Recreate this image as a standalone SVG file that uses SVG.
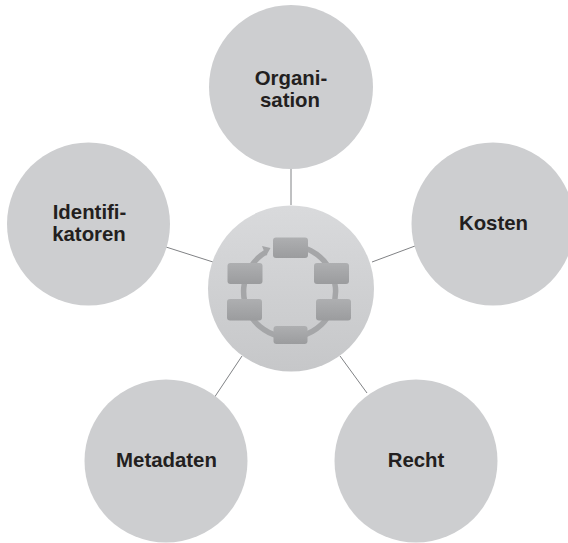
<svg xmlns="http://www.w3.org/2000/svg" width="568" height="543" viewBox="0 0 568 543">
<style>
.n{fill:#cdced0}
.l{font:bold 20.4px "Liberation Sans",Arial,sans-serif;fill:#231f20;text-anchor:middle}
.c{stroke:#808285;stroke-width:1;fill:none}
.b{fill:url(#bx);filter:url(#sb)}
</style>
<defs>
<linearGradient id="cg" x1="0" y1="0" x2="0" y2="1"><stop offset="0" stop-color="#d9dadc"/><stop offset="1" stop-color="#c6c7c9"/></linearGradient>
<linearGradient id="bx" x1="0" y1="0" x2="0" y2="1"><stop offset="0" stop-color="#aeafb1"/><stop offset="1" stop-color="#9b9c9e"/></linearGradient>
<filter id="sb" x="-10%" y="-10%" width="120%" height="120%"><feGaussianBlur stdDeviation="0.6"/></filter>
<filter id="s" x="-5%" y="-5%" width="110%" height="110%"><feGaussianBlur stdDeviation="0.7"/></filter>
</defs>
<rect width="568" height="543" fill="#fff"/>
<g id="connectors">
<line class="c" x1="291" y1="169" x2="291" y2="205"/>
<line class="c" x1="166" y1="247" x2="213" y2="262"/>
<line class="c" x1="415" y1="246" x2="372" y2="262"/>
<line class="c" x1="214" y1="398" x2="242" y2="356"/>
<line class="c" x1="367" y1="393" x2="340" y2="356"/>
</g>
<g id="node-organisation"><circle class="n" cx="291" cy="87" r="82"/><text class="l" x="291" y="85">Organi-</text><text class="l" x="290" y="107">sation</text></g>
<g id="node-identifikatoren"><circle class="n" cx="88.5" cy="224" r="81.5"/><text class="l" x="89.500" y="219">Identifi-</text><text class="l" x="89" y="241">katoren</text></g>
<g id="node-kosten"><circle class="n" cx="493" cy="224" r="81.5"/><text class="l" x="493.500" y="230">Kosten</text></g>
<g id="node-metadaten"><circle class="n" cx="166" cy="461" r="81.5"/><text class="l" x="166.500" y="467">Metadaten</text></g>
<g id="node-recht"><circle class="n" cx="416" cy="461" r="81.5"/><text class="l" x="416" y="467">Recht</text></g>
<g id="node-center">
<circle cx="291" cy="288.500" r="83" fill="url(#cg)" filter="url(#s)"/>
<path d="M266 252 A46 46 0 1 0 291 245.500" fill="none" stroke="#a5a6a8" stroke-width="5.500"/>
<path d="M270.500 248 L262 246 L266 256 Z" fill="#a5a6a8"/>
<rect class="b" x="273" y="237.500" width="35" height="20.500" rx="3"/>
<rect class="b" x="314" y="263" width="35" height="21" rx="3"/>
<rect class="b" x="316" y="299" width="35" height="21.500" rx="3"/>
<rect class="b" x="273.500" y="326" width="34" height="18" rx="3"/>
<rect class="b" x="227" y="299" width="35" height="21.500" rx="3"/>
<rect class="b" x="227.500" y="263" width="35" height="21" rx="3"/>
</g>
</svg>
